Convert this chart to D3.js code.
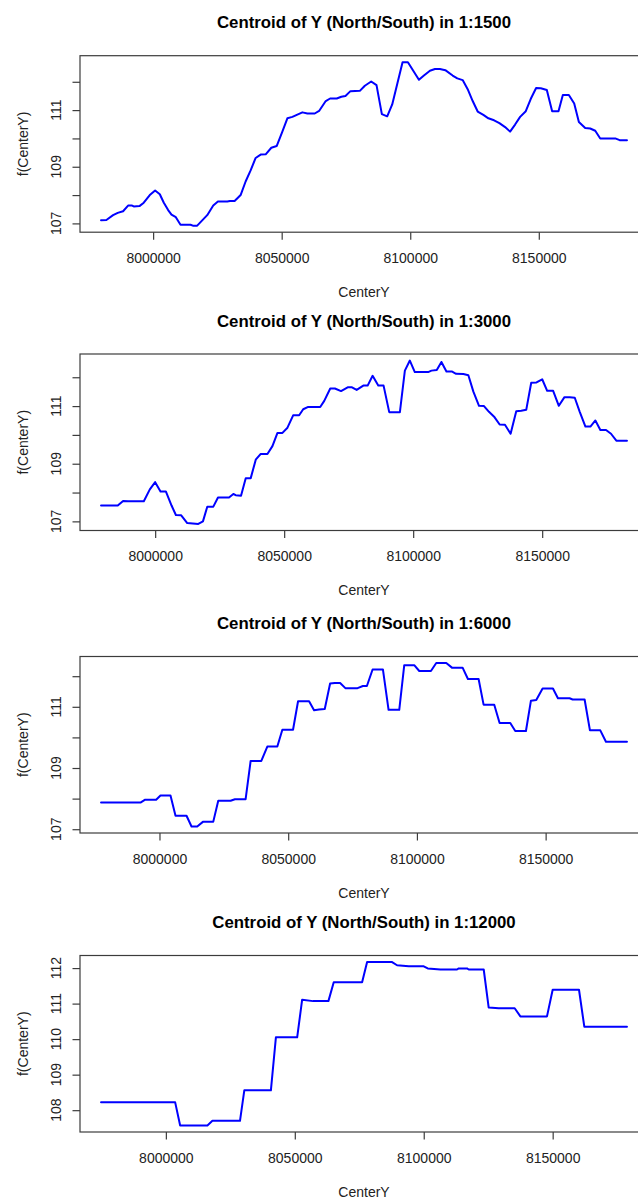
<!DOCTYPE html>
<html>
<head>
<meta charset="utf-8">
<script src="https://cdn.jsdelivr.net/npm/d3@7/dist/d3.min.js"></script>
<style>
  html, body { margin: 0; padding: 0; background: #fff; }
  svg { display: block; font-family: "Liberation Sans", Arial, sans-serif; }
</style>
</head>
<body>
<svg id="chart" width="638" height="1198"></svg>
<script>
// Partial effect of the northing (CenterY) at four map scales.
const scaleNames = ["1:1500", "1:3000", "1:6000", "1:12000"];

const centerY1500 = [7979740, 7981820, 7984420, 7986230, 7988310, 7990260, 7991820, 7992470, 7994680, 7996360,
  7998700, 8000780, 8002600, 8004160, 8005840, 8007140, 8008830, 8010650, 8014550, 8015450,
  8017140, 8021040, 8023380, 8025200, 8028830, 8029870, 8031690, 8034030, 8035970, 8037920,
  8039870, 8041820, 8043770, 8045970, 8048050, 8050260, 8052210, 8054160, 8056100, 8058050,
  8060000, 8062860, 8064550, 8067140, 8068830, 8071430, 8073200, 8074800, 8076750, 8080390,
  8082340, 8084810, 8086880, 8088960, 8091040, 8092990, 8094940, 8097010, 8099090, 8103380,
  8105320, 8107660, 8109610, 8111560, 8113640, 8116490, 8118310, 8120390, 8122340, 8124290,
  8126230, 8128440, 8130390, 8132600, 8134680, 8136890, 8138830, 8140780, 8142730, 8144940,
  8146890, 8148960, 8150780, 8153120, 8155190, 8157660, 8159350, 8161690, 8163770, 8165590,
  8168050, 8170000, 8171950, 8173900, 8179740, 8181430, 8184290];
const fY1500 = [107.11, 107.12, 107.29, 107.37, 107.43, 107.63, 107.63, 107.60, 107.61, 107.73,
  108.00, 108.16, 108.03, 107.73, 107.47, 107.31, 107.22, 106.95, 106.95, 106.92,
  106.92, 107.29, 107.63, 107.77, 107.77, 107.79, 107.79, 108.00, 108.48, 108.87,
  109.31, 109.43, 109.44, 109.67, 109.73, 110.24, 110.71, 110.76, 110.84, 110.92,
  110.88, 110.88, 110.97, 111.32, 111.41, 111.41, 111.47, 111.50, 111.67, 111.68,
  111.86, 112.01, 111.88, 110.86, 110.78, 111.20, 111.92, 112.69, 112.69, 112.07,
  112.22, 112.39, 112.45, 112.45, 112.41, 112.22, 112.12, 112.06, 111.74, 111.32,
  110.95, 110.83, 110.71, 110.64, 110.54, 110.40, 110.24, 110.49, 110.76, 110.96,
  111.40, 111.78, 111.77, 111.71, 110.96, 110.96, 111.53, 111.53, 111.23, 110.58,
  110.37, 110.35, 110.27, 110.00, 110.00, 109.94, 109.94];

const centerY3000 = [7979020, 7985500, 7987570, 7989510, 7995600, 7997930, 8000000, 8002070, 8004140, 8006350,
  8008030, 8010100, 8012430, 8016710, 8018520, 8020200, 8022540, 8024350, 8028620, 8030310,
  8031210, 8033280, 8035100, 8037040, 8038980, 8040920, 8043510, 8045450, 8047400, 8049340,
  8051280, 8053480, 8055810, 8057370, 8059310, 8063970, 8065530, 8067860, 8069670, 8072040,
  8074610, 8076290, 8078100, 8080670, 8082350, 8084280, 8086470, 8088530, 8090720, 8094850,
  8096780, 8098710, 8100640, 8105800, 8107090, 8109150, 8110950, 8112890, 8114950, 8116620,
  8119460, 8121390, 8123330, 8125520, 8127450, 8129380, 8131570, 8133510, 8135570, 8137760,
  8139950, 8141880, 8143820, 8145750, 8147810, 8150000, 8151940, 8154250, 8156450, 8158640,
  8160700, 8162630, 8164560, 8166760, 8168690, 8170620, 8172550, 8174750, 8176680, 8178740,
  8182860];
const fY3000 = [107.55, 107.55, 107.71, 107.70, 107.70, 108.11, 108.36, 108.04, 108.04, 107.55,
  107.22, 107.21, 106.94, 106.91, 107.00, 107.51, 107.51, 107.83, 107.83, 107.95,
  107.91, 107.89, 108.50, 108.50, 109.14, 109.34, 109.34, 109.61, 110.07, 110.07,
  110.25, 110.68, 110.68, 110.89, 110.97, 110.97, 111.18, 111.61, 111.61, 111.52,
  111.65, 111.65, 111.56, 111.71, 111.71, 112.05, 111.71, 111.71, 110.79, 110.79,
  112.23, 112.58, 112.18, 112.18, 112.23, 112.25, 112.53, 112.20, 112.20, 112.12,
  112.11, 112.07, 111.50, 111.01, 111.00, 110.80, 110.61, 110.36, 110.35, 110.04,
  110.82, 110.84, 110.87, 111.81, 111.82, 111.93, 111.53, 111.53, 111.01, 111.31,
  111.31, 111.29, 110.80, 110.29, 110.29, 110.50, 110.17, 110.17, 110.04, 109.80,
  109.80];

const centerY6000 = [7977300, 7992610, 7994290, 7998700, 8000390, 8004280, 8006230, 8010510, 8012450, 8014660,
  8016860, 8020880, 8022830, 8027630, 8029310, 8033460, 8035410, 8039560, 8041890, 8045780,
  8047730, 8051880, 8053830, 8058110, 8060050, 8062000, 8064200, 8066280, 8068090, 8070170,
  8072200, 8076950, 8079020, 8080575, 8082780, 8086790, 8088990, 8093140, 8095080, 8098960,
  8100910, 8105440, 8107510, 8111400, 8113600, 8117740, 8119810, 8123960, 8125900, 8130040,
  8132120, 8136260, 8138200, 8142350, 8144290, 8146360, 8148820, 8152840, 8154780, 8159310,
  8160480, 8165140, 8167210, 8171230, 8173430, 8181590];
const fY6000 = [107.87, 107.87, 107.96, 107.96, 108.10, 108.10, 107.44, 107.44, 107.09, 107.09,
  107.24, 107.24, 107.93, 107.93, 107.98, 107.98, 109.23, 109.23, 109.70, 109.70,
  110.25, 110.25, 111.18, 111.18, 110.89, 110.91, 110.93, 111.76, 111.78, 111.78,
  111.61, 111.61, 111.68, 111.68, 112.22, 112.22, 110.90, 110.90, 112.36, 112.36,
  112.17, 112.17, 112.43, 112.43, 112.28, 112.28, 111.91, 111.91, 111.07, 111.07,
  110.47, 110.47, 110.21, 110.21, 111.20, 111.22, 111.60, 111.60, 111.28, 111.28,
  111.24, 111.24, 110.23, 110.23, 109.86, 109.86];

const centerY12000 = [7974860, 8003610, 8005540, 8016110, 8018050, 8028745, 8030420, 8040730, 8042670, 8050920,
  8052850, 8057100, 8063030, 8065100, 8076100, 8078040, 8087730, 8089660, 8094190, 8100000,
  8101550, 8106460, 8112920, 8113570, 8116800, 8117440, 8123260, 8125190, 8129070, 8135270,
  8137470, 8147800, 8150000, 8160210, 8162270, 8178810];
const fY12000 = [108.22, 108.22, 107.57, 107.57, 107.70, 107.70, 108.56, 108.56, 110.05, 110.05,
  111.11, 111.07, 111.07, 111.60, 111.60, 112.17, 112.17, 112.08, 112.05, 112.05,
  111.99, 111.96, 111.96, 111.99, 111.99, 111.96, 111.96, 110.89, 110.87, 110.87,
  110.64, 110.64, 111.39, 111.39, 110.35, 110.35];

const xTickValues = [8000000, 8050000, 8100000, 8150000];
const yTickValues = [[107, 108, 109, 110, 111, 112], [107, 108, 109, 110, 111, 112],
                     [107, 108, 109, 110, 111, 112], [108, 109, 110, 111, 112]];
const yTickLabels = [[107, 109, 111], [107, 109, 111], [107, 109, 111], [108, 109, 110, 111, 112]];

const xSeries = [centerY1500, centerY3000, centerY6000, centerY12000];
const ySeries = [fY1500, fY3000, fY6000, fY12000];

// Layout of each stacked plot
const plotLeft = 80, plotRight = 648;
const plotTops = [55.7, 354, 656.5, 955.5];
const plotHeight = 176.5;
const frameColor = "#3c3c3c";
const textColor = "#222";

const svg = d3.select("#chart");

// R-style axis range: data extent widened by 4% on each side
function padded(values) {
  const [lo, hi] = d3.extent(values);
  const r = hi - lo;
  return [lo - 0.04 * r, hi + 0.04 * r];
}

scaleNames.forEach((name, i) => {
  const top = plotTops[i];
  const bottom = top + plotHeight;
  const g = svg.append("g");

  const x = d3.scaleLinear().domain(padded(xSeries[i])).range([plotLeft, plotRight]);
  const y = d3.scaleLinear().domain(padded(ySeries[i])).range([bottom, top]);

  // Title
  g.append("text")
    .attr("x", (plotLeft + plotRight) / 2)
    .attr("y", top - 27.4)
    .attr("text-anchor", "middle")
    .attr("font-size", 16.8)
    .attr("font-weight", "bold")
    .attr("fill", "#000")
    .text(`Centroid of Y (North/South) in ${name}`);

  // Bottom axis
  const xAxis = g.append("g").attr("transform", `translate(0,${bottom})`);
  xAxis.call(d3.axisBottom(x).tickValues(xTickValues).tickSize(7.5).tickFormat(d3.format("d")));
  xAxis.select(".domain").remove();
  xAxis.selectAll(".tick line").attr("stroke", frameColor).attr("stroke-width", 1.2);
  xAxis.selectAll(".tick text")
    .attr("y", 30.5).attr("dy", null)
    .attr("font-size", 14).attr("font-family", "Liberation Sans, Arial, sans-serif")
    .attr("fill", textColor);

  // Left axis: tick marks at every integer, labels where they fit
  const yAxis = g.append("g").attr("transform", `translate(${plotLeft},0)`);
  yAxis.call(d3.axisLeft(y).tickValues(yTickValues[i]).tickSize(7.5).tickFormat(""));
  yAxis.select(".domain").remove();
  yAxis.selectAll(".tick line").attr("stroke", frameColor).attr("stroke-width", 1.2);
  g.selectAll(".ylab")
    .data(yTickLabels[i])
    .enter().append("text")
    .attr("class", "ylab")
    .attr("transform", d => `translate(61,${y(d)}) rotate(-90)`)
    .attr("text-anchor", "middle")
    .attr("font-size", 14)
    .attr("fill", textColor)
    .text(d => d);

  // Axis titles
  g.append("text")
    .attr("x", (plotLeft + plotRight) / 2)
    .attr("y", bottom + 64.5)
    .attr("text-anchor", "middle")
    .attr("font-size", 14)
    .attr("fill", textColor)
    .text("CenterY");
  g.append("text")
    .attr("transform", `translate(28,${(top + bottom) / 2}) rotate(-90)`)
    .attr("text-anchor", "middle")
    .attr("font-size", 14)
    .attr("fill", textColor)
    .text("f(CenterY)");

  // Plot frame
  g.append("rect")
    .attr("x", plotLeft).attr("y", top)
    .attr("width", plotRight - plotLeft).attr("height", plotHeight)
    .attr("fill", "none")
    .attr("stroke", frameColor)
    .attr("stroke-width", 1.2);

  // Effect curve
  const pts = xSeries[i].map((v, k) => [v, ySeries[i][k]]);
  g.append("path")
    .datum(pts)
    .attr("fill", "none")
    .attr("stroke", "#0000ff")
    .attr("stroke-width", 2)
    .attr("stroke-linejoin", "round")
    .attr("stroke-linecap", "round")
    .attr("d", d3.line().x(d => x(d[0])).y(d => y(d[1])));
});
</script>
</body>
</html>
